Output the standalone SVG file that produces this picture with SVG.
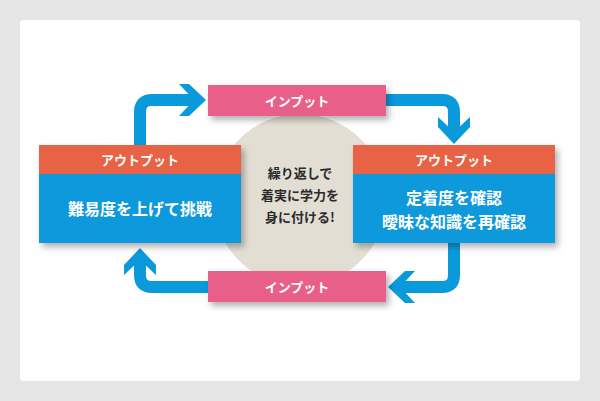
<svg xmlns="http://www.w3.org/2000/svg" width="600" height="401" viewBox="0 0 600 401">
<style>
.t{font-family:"Noto Sans CJK JP","Noto Sans",sans-serif;font-weight:bold;text-anchor:middle}
.w{fill:#fff}
.ln{fill:none;stroke:#0a99db;stroke-width:12;stroke-linejoin:round}
</style>
<defs>
<filter id="sh" x="-10%" y="-10%" width="130%" height="140%"><feDropShadow dx="3" dy="4" stdDeviation="3" flood-color="#000" flood-opacity="0.3"/></filter>
<polygon id="ah" points="0,0 -17,-16 -27,-16 -12,0 -27,16 -17,16" fill="#0a99db"/>
</defs>
<rect width="600" height="401" fill="#e6e6e6"/>
<rect x="20" y="20" width="560" height="361" rx="4" fill="#fff"/>
<circle cx="300" cy="200" r="86" fill="#e3ded3"/>
<g id="connectors">
<path class="ln" d="M140,150 V112 Q140,100 152,100 H196"/>
<use href="#ah" transform="translate(206,100)"/>
<path class="ln" d="M380,100 H442 Q454,100 454,112 V134"/>
<use href="#ah" transform="translate(454,144) rotate(90)"/>
<path class="ln" d="M454,240 V275 Q454,287 442,287 H398"/>
<use href="#ah" transform="translate(388,287) rotate(180)"/>
<path class="ln" d="M212,287 H152 Q140,287 140,275 V258"/>
<use href="#ah" transform="translate(140,248) rotate(-90)"/>
</g>
<g id="input-top" filter="url(#sh)"><rect x="208" y="85" width="178" height="31" fill="#e8618a"/></g>
<text class="t w" x="297" y="106" font-size="13">インプット</text>
<g id="input-bottom" filter="url(#sh)"><rect x="208" y="271" width="178" height="31" fill="#e8618a"/></g>
<text class="t w" x="297" y="292" font-size="13">インプット</text>
<g id="center"><text class="t" fill="#2b2b2b" font-size="13"><tspan x="300" y="178">繰り返しで</tspan><tspan x="300" y="200">着実に学力を</tspan><tspan x="300" y="222">身に付ける!</tspan></text></g>
<g id="left" filter="url(#sh)">
<rect x="39" y="145" width="202" height="29" fill="#e86245"/>
<rect x="39" y="174" width="202" height="69" fill="#0a99db"/>
</g>
<text class="t w" x="140" y="165" font-size="13">アウトプット</text>
<text class="t w" x="140" y="215" font-size="16">難易度を上げて挑戦</text>
<g id="right" filter="url(#sh)">
<rect x="353" y="145" width="202" height="29" fill="#e86245"/>
<rect x="353" y="174" width="202" height="69" fill="#0a99db"/>
</g>
<text class="t w" x="454" y="165" font-size="13">アウトプット</text>
<text class="t w" font-size="16"><tspan x="454" y="204">定着度を確認</tspan><tspan x="454" y="228">曖昧な知識を再確認</tspan></text>
</svg>
